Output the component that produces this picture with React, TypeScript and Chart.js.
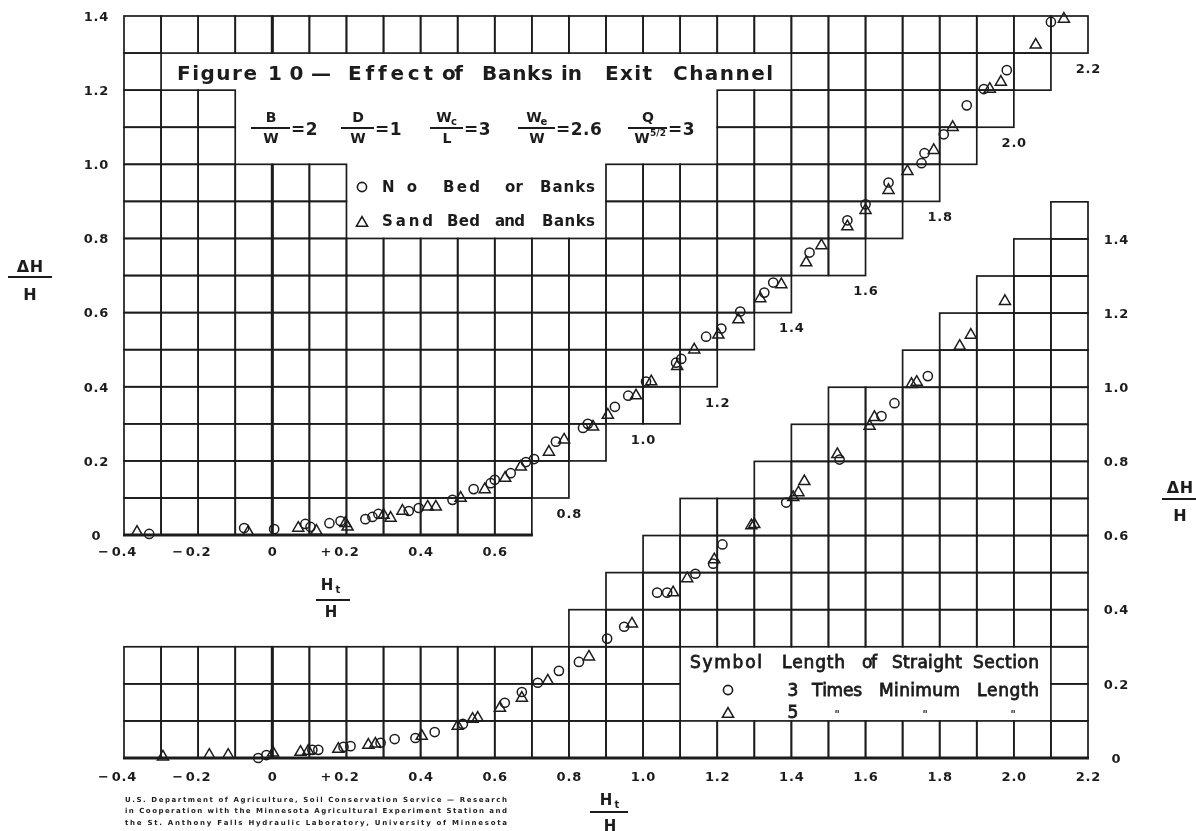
import React, { useEffect, useRef } from "react";
import { Chart, registerables } from "chart.js";

Chart.register(...registerables);

const FONT = '"DejaVu Sans", "Liberation Sans", Arial, sans-serif';
const INK = "#1c1c1c";
const W = 1196;
const H = 831;
const PAD = { left: 124, right: 108, top: 16, bottom: 73 };

// ---------------- upper graph (left axis) ----------------
const upperNoBedX = [-0.332, -0.076, 0.005, 0.089, 0.103, 0.154, 0.184, 0.251, 0.27, 0.286, 0.368, 0.395, 0.486, 0.543, 0.589, 0.6, 0.643, 0.684, 0.706, 0.765, 0.838, 0.851, 0.924, 0.96, 1.008, 1.089, 1.103, 1.17, 1.211, 1.262, 1.327, 1.351, 1.449, 1.551, 1.6, 1.662, 1.751, 1.759, 1.811, 1.873, 1.919, 1.981, 2.1];
const upperNoBedY = [0.003, 0.019, 0.016, 0.03, 0.022, 0.032, 0.038, 0.043, 0.049, 0.057, 0.065, 0.073, 0.095, 0.124, 0.14, 0.149, 0.167, 0.197, 0.205, 0.252, 0.289, 0.3, 0.346, 0.376, 0.414, 0.465, 0.475, 0.535, 0.557, 0.603, 0.654, 0.681, 0.762, 0.849, 0.892, 0.951, 1.003, 1.03, 1.081, 1.159, 1.203, 1.254, 1.384];

const upperSandX = [-0.365, -0.065, 0.07, 0.119, 0.197, 0.203, 0.3, 0.319, 0.351, 0.419, 0.441, 0.508, 0.573, 0.628, 0.67, 0.746, 0.787, 0.865, 0.905, 0.981, 1.022, 1.092, 1.138, 1.203, 1.257, 1.316, 1.373, 1.44, 1.481, 1.551, 1.6, 1.662, 1.713, 1.784, 1.835, 1.935, 1.965, 2.059, 2.135];
const upperSandY = [0.008, 0.008, 0.019, 0.011, 0.032, 0.022, 0.054, 0.046, 0.065, 0.076, 0.076, 0.1, 0.123, 0.154, 0.184, 0.224, 0.257, 0.292, 0.324, 0.376, 0.414, 0.455, 0.5, 0.54, 0.581, 0.638, 0.676, 0.735, 0.781, 0.832, 0.876, 0.93, 0.981, 1.038, 1.1, 1.203, 1.222, 1.322, 1.392];

// ---------------- lower graph (right axis) ----------------
const lowerThreeX = [-0.038, -0.016, 0.108, 0.124, 0.192, 0.211, 0.292, 0.33, 0.386, 0.438, 0.514, 0.627, 0.673, 0.716, 0.773, 0.827, 0.903, 0.949, 1.038, 1.065, 1.141, 1.189, 1.214, 1.386, 1.53, 1.643, 1.678, 1.768];
const lowerThreeY = [0.0, 0.008, 0.022, 0.022, 0.03, 0.032, 0.041, 0.051, 0.054, 0.07, 0.092, 0.149, 0.178, 0.203, 0.235, 0.259, 0.322, 0.354, 0.446, 0.446, 0.497, 0.524, 0.576, 0.689, 0.805, 0.922, 0.957, 1.03];

const lowerFiveX = [-0.295, -0.17, -0.119, 0.002, 0.076, 0.097, 0.178, 0.259, 0.278, 0.403, 0.5, 0.54, 0.554, 0.614, 0.673, 0.743, 0.854, 0.97, 1.081, 1.119, 1.192, 1.292, 1.3, 1.405, 1.419, 1.435, 1.524, 1.611, 1.624, 1.724, 1.738, 1.854, 1.884, 1.976];
const lowerFiveY = [0.003, 0.008, 0.008, 0.014, 0.016, 0.019, 0.024, 0.035, 0.038, 0.059, 0.086, 0.105, 0.108, 0.135, 0.162, 0.208, 0.273, 0.362, 0.446, 0.484, 0.535, 0.627, 0.63, 0.703, 0.716, 0.746, 0.819, 0.895, 0.919, 1.008, 1.014, 1.111, 1.141, 1.232];

// ---------------- staircase grids (row bottom -> x segments) ----------------
const upperRowBottoms = [0.0, 0.1, 0.2, 0.3, 0.4, 0.5, 0.6, 0.7, 0.8, 0.9, 1.0, 1.1, 1.2, 1.3];
const upperRowSegments = [
  [[-0.4, 0.7]], [[-0.4, 0.8]], [[-0.4, 0.9]], [[-0.4, 1.1]], [[-0.4, 1.2]],
  [[-0.4, 1.3]], [[-0.4, 1.4]], [[-0.4, 1.6]],
  [[-0.4, 0.2], [0.9, 1.7]], [[-0.4, 0.2], [0.9, 1.8]],
  [[-0.4, -0.1], [1.2, 1.9]], [[-0.4, -0.1], [1.2, 2.0]],
  [[-0.4, -0.3], [1.4, 2.1]], [[-0.4, 2.2]],
];
const lowerRowBottoms = [0.0, 0.1, 0.2, 0.3, 0.4, 0.5, 0.6, 0.7, 0.8, 0.9, 1.0, 1.1, 1.2, 1.3, 1.4];
const lowerRowSegments = [
  [[-0.4, 2.2]], [[-0.4, 1.1], [2.1, 2.2]], [[-0.4, 1.1], [2.1, 2.2]],
  [[0.8, 2.2]], [[0.9, 2.2]], [[1.0, 2.2]], [[1.1, 2.2]], [[1.3, 2.2]],
  [[1.4, 2.2]], [[1.5, 2.2]], [[1.7, 2.2]], [[1.8, 2.2]], [[1.9, 2.2]],
  [[2.0, 2.2]], [[2.1, 2.2]],
];

// ---------------- ticks ----------------
const upperYTicks = [0, 0.2, 0.4, 0.6, 0.8, 1.0, 1.2, 1.4];
const upperYLabels = ["0", "0.2", "0.4", "0.6", "0.8", "1.0", "1.2", "1.4"];
const upperXTicks = [-0.4, -0.2, 0, 0.2, 0.4, 0.6];
const upperXLabels = ["\u22120.4", "\u22120.2", "0", "+0.2", "0.4", "0.6"];
const upperStairTicks = [0.8, 1.0, 1.2, 1.4, 1.6, 1.8, 2.0, 2.2];
const upperStairLabels = ["0.8", "1.0", "1.2", "1.4", "1.6", "1.8", "2.0", "2.2"];
const upperStairEnds = [0.1, 0.3, 0.4, 0.6, 0.7, 0.9, 1.1, 1.3];
const lowerXTicks = [-0.4, -0.2, 0, 0.2, 0.4, 0.6, 0.8, 1.0, 1.2, 1.4, 1.6, 1.8, 2.0, 2.2];
const lowerXLabels = ["\u22120.4", "\u22120.2", "0", "+0.2", "0.4", "0.6", "0.8", "1.0", "1.2", "1.4", "1.6", "1.8", "2.0", "2.2"];
const lowerYTicks = [0, 0.2, 0.4, 0.6, 0.8, 1.0, 1.2, 1.4];
const lowerYLabels = ["0", "0.2", "0.4", "0.6", "0.8", "1.0", "1.2", "1.4"];

// ---------------- lettering (word, left px, right px) ----------------
const titleWords: [string, number, number][] = [
  ["Figure", 177, 257], ["10\u2014", 268, 331], ["Effect", 348, 433], ["of", 442, 463],
  ["Banks", 482, 553], ["in", 561, 582], ["Exit", 605, 652], ["Channel", 673, 773],
];
const legendNoBedWords: [string, number, number][] = [["No", 382, 417], ["Bed", 443, 480], ["or", 505, 523], ["Banks", 540, 595]];
const legendSandWords: [string, number, number][] = [["Sand", 382, 433], ["Bed", 447, 480], ["and", 495, 525], ["Banks", 542, 595]];
const lowerHeadWords: [string, number, number][] = [["Symbol", 690, 762], ["Length", 782, 845], ["of", 862, 877], ["Straight", 892, 962], ["Section", 973, 1039]];
const lowerThreeWords: [string, number, number][] = [["Times", 812, 862], ["Minimum", 879, 960], ["Length", 977, 1039]];

const footerLines = [
  "U.S. Department of Agriculture, Soil Conservation Service \u2014 Research",
  "in Cooperation with the Minnesota Agricultural Experiment Station and",
  "the St. Anthony Falls Hydraulic Laboratory, University of Minnesota",
];

const zip = (xs: number[], ys: number[]) => xs.map((x, i) => ({ x, y: ys[i] }));

type TxtOpts = { bold?: boolean; heavy?: number; align?: "left" | "center" | "right"; width?: number; spacing?: number };

function txt(ctx: CanvasRenderingContext2D, s: string, x: number, yc: number, size: number, o: TxtOpts = {}) {
  ctx.font = `${o.bold ? "bold " : ""}${size}px ${FONT}`;
  ctx.textAlign = "left";
  ctx.textBaseline = "alphabetic";
  const chars = Array.from(s);
  const ws = chars.map((c) => ctx.measureText(c).width);
  const nat = ws.reduce((a, b) => a + b, 0);
  let gap = o.spacing ?? 0;
  if (o.width != null && chars.length > 1) gap = (o.width - nat) / (chars.length - 1);
  const total = nat + gap * (chars.length - 1);
  const align = o.align ?? "left";
  let cx = align === "left" ? x : align === "center" ? x - total / 2 : x - total;
  const base = yc + size * 0.365;
  chars.forEach((c, i) => {
    ctx.fillText(c, cx, base);
    if (o.heavy) {
      ctx.lineWidth = o.heavy;
      ctx.strokeText(c, cx, base);
    }
    cx += ws[i] + gap;
  });
  return total;
}

function words(ctx: CanvasRenderingContext2D, list: [string, number, number][], yc: number, size: number, bold: boolean, heavy = 0) {
  list.forEach(([w, x0, x1]) => txt(ctx, w, x0, yc, size, { bold, heavy, width: x1 - x0 }));
}

function numLabel(ctx: CanvasRenderingContext2D, s: string, x: number, yc: number, size: number) {
  ctx.font = `bold ${size}px ${FONT}`;
  const sp = 0.8;
  const hasSign = s[0] === "\u2212" || s[0] === "+";
  const body = hasSign ? s.slice(1) : s;
  const bw = Array.from(body).reduce((a, c) => a + ctx.measureText(c).width, 0) + sp * (body.length - 1);
  const left = x - bw / 2;
  if (hasSign) {
    const sw = ctx.measureText(s[0]).width + sp + 2;
    txt(ctx, s[0], left - sw, yc, size, { bold: true });
  }
  txt(ctx, body, left, yc, size, { bold: true, spacing: sp });
}

function drawGrid(ctx: CanvasRenderingContext2D, X: (v: number) => number, Y: (v: number) => number, bottoms: number[], segs: number[][][]) {
  ctx.strokeStyle = INK;
  ctx.lineWidth = 1.7;
  for (let r = 0; r < bottoms.length; r++) {
    const y0 = bottoms[r];
    const y1 = y0 + 0.1;
    for (const [a, b] of segs[r]) {
      const ia = Math.round(a * 10);
      const ib = Math.round(b * 10);
      for (let i = ia; i < ib; i++) {
        const xa = X(i / 10);
        const xb = X((i + 1) / 10);
        ctx.strokeRect(xa, Y(y1), xb - xa, Y(y0) - Y(y1));
      }
    }
  }
  ctx.lineWidth = 3;
  ctx.beginPath();
  for (let r = 0; r < bottoms.length; r++) {
    for (const [a, b] of segs[r]) {
      if (a <= 0 && b >= 0) {
        ctx.moveTo(X(0), Y(bottoms[r]));
        ctx.lineTo(X(0), Y(bottoms[r] + 0.1));
      }
      if (Math.abs(bottoms[r]) < 1e-9) {
        ctx.moveTo(X(a) - 1, Y(0));
        ctx.lineTo(X(b) + 1, Y(0));
      }
    }
  }
  ctx.stroke();
}

function circ(ctx: CanvasRenderingContext2D, x: number, y: number, r: number) {
  ctx.beginPath();
  ctx.arc(x, y, r, 0, Math.PI * 2);
  ctx.stroke();
}
function tri(ctx: CanvasRenderingContext2D, x: number, y: number, r: number) {
  ctx.beginPath();
  ctx.moveTo(x, y - r);
  ctx.lineTo(x + r * 0.866, y + r * 0.5);
  ctx.lineTo(x - r * 0.866, y + r * 0.5);
  ctx.closePath();
  ctx.stroke();
}
function hline(ctx: CanvasRenderingContext2D, x0: number, x1: number, y: number, w = 2) {
  ctx.lineWidth = w;
  ctx.beginPath();
  ctx.moveTo(x0, y);
  ctx.lineTo(x1, y);
  ctx.stroke();
}

const artPlugin = {
  id: "art",
  beforeDatasetsDraw(chart: any) {
    const ctx: CanvasRenderingContext2D = chart.ctx;
    const X = (v: number) => chart.scales.x.getPixelForValue(v);
    const YU = (v: number) => chart.scales.yUp.getPixelForValue(v);
    const YL = (v: number) => chart.scales.yLow.getPixelForValue(v);
    ctx.save();
    ctx.fillStyle = "#ffffff";
    ctx.fillRect(0, 0, W, H);
    drawGrid(ctx, X, YU, upperRowBottoms, upperRowSegments);
    drawGrid(ctx, X, YL, lowerRowBottoms, lowerRowSegments);
    ctx.restore();
  },
  afterDraw(chart: any) {
    const ctx: CanvasRenderingContext2D = chart.ctx;
    const X = (v: number) => chart.scales.x.getPixelForValue(v);
    const YU = (v: number) => chart.scales.yUp.getPixelForValue(v);
    const YL = (v: number) => chart.scales.yLow.getPixelForValue(v);
    ctx.save();
    ctx.fillStyle = INK;
    ctx.strokeStyle = INK;

    // tick labels
    upperYTicks.forEach((v, i) => txt(ctx, upperYLabels[i], X(-0.4) - 28, YU(v), 13, { bold: true, align: "center", spacing: 0.8 }));
    upperXTicks.forEach((v, i) => numLabel(ctx, upperXLabels[i], X(v), YU(0) + 16, 13));
    upperStairTicks.forEach((v, i) => numLabel(ctx, upperStairLabels[i], X(v), YU(upperStairEnds[i]) + 15, 13));
    lowerXTicks.forEach((v, i) => numLabel(ctx, lowerXLabels[i], X(v), YL(0) + 18, 13));
    lowerYTicks.forEach((v, i) => txt(ctx, lowerYLabels[i], X(2.2) + 28, YL(v), 13, { bold: true, align: "center", spacing: 0.8 }));

    // axis titles: ΔH / H (left & right)
    txt(ctx, "\u0394H", 30, 266, 16, { bold: true, align: "center", spacing: 0.5 });
    hline(ctx, 8, 52, 277, 2);
    txt(ctx, "H", 30, 294, 16, { bold: true, align: "center" });
    txt(ctx, "\u0394H", 1180, 487, 16, { bold: true, align: "center", spacing: 0.5 });
    hline(ctx, 1162, 1196, 499, 2);
    txt(ctx, "H", 1180, 515, 16, { bold: true, align: "center" });

    // Ht / H labels
    const htH = (cx: number, yNum: number, yLine: number, yDen: number, x0: number, x1: number) => {
      txt(ctx, "H", cx - 4, yNum, 15, { bold: true, align: "center" });
      txt(ctx, "t", cx + 7, yNum + 4, 10, { bold: true, align: "center" });
      hline(ctx, x0, x1, yLine, 2);
      txt(ctx, "H", cx, yDen, 15, { bold: true, align: "center" });
    };
    htH(331, 585, 600, 612, 316, 350);
    htH(610, 800, 812, 826, 590, 628);

    // Title
    words(ctx, titleWords, 73, 20, true);

    // Parameters
    const frac = (num: string, sub: string, den: string, sup: string, cx: number, x0: number, x1: number, eq: string) => {
      txt(ctx, num, cx - (sub ? 3 : 0), 117, 14, { bold: true, align: "center" });
      if (sub) txt(ctx, sub, cx + 7, 121, 10, { bold: true, align: "center" });
      hline(ctx, x0, x1, 128, 1.8);
      txt(ctx, den, cx - (sup ? 6 : 0), 138, 14, { bold: true, align: "center" });
      if (sup) txt(ctx, sup, cx + 10, 133, 9, { bold: true, align: "center" });
      txt(ctx, eq, x1 + 1, 129, 17, { bold: true, spacing: 0.5 });
    };
    frac("B", "", "W", "", 271, 251, 290, "=2");
    frac("D", "", "W", "", 358, 341, 374, "=1");
    frac("W", "c", "L", "", 447, 430, 463, "=3");
    frac("W", "e", "W", "", 537, 518, 555, "=2.6");
    frac("Q", "", "W", "5/2", 648, 628, 667, "=3");

    // Upper legend
    ctx.lineWidth = 1.6;
    circ(ctx, 362, 187, 4.6);
    tri(ctx, 362, 223, 6.4);
    words(ctx, legendNoBedWords, 187, 15, true);
    words(ctx, legendSandWords, 221, 15, true);

    // Lower legend
    words(ctx, lowerHeadWords, 662, 17, false, 0.8);
    ctx.lineWidth = 1.6;
    circ(ctx, 728, 690, 4.6);
    tri(ctx, 728, 714, 6.4);
    txt(ctx, "3", 793, 690, 17, { heavy: 0.8, align: "center" });
    words(ctx, lowerThreeWords, 690, 17, false, 0.8);
    txt(ctx, "5", 793, 712, 17, { heavy: 0.8, align: "center" });
    [837, 925, 1013].forEach((x) => txt(ctx, "\"", x, 714, 10, { bold: true, align: "center" }));

    // Footer credit
    footerLines.forEach((s, i) => txt(ctx, s, 125, 799 + i * 11.5, 7, { bold: true, width: 382 }));

    ctx.restore();
  },
};

export default function App() {
  const ref = useRef<HTMLCanvasElement | null>(null);
  useEffect(() => {
    if (!ref.current) return;
    const areaW = W - PAD.left - PAD.right;
    const areaH = H - PAD.top - PAD.bottom;
    const ppu = areaW / 2.6;
    const span = areaH / ppu;
    const common = {
      showLine: false,
      borderColor: INK,
      backgroundColor: "rgba(0,0,0,0)",
      borderWidth: 1.5,
      clip: false as any,
    };
    const chart = new Chart(ref.current, {
      type: "scatter",
      data: {
        datasets: [
          { ...common, label: "No Bed or Banks", data: zip(upperNoBedX, upperNoBedY), pointStyle: "circle", pointRadius: 4.6, yAxisID: "yUp" },
          { ...common, label: "Sand Bed and Banks", data: zip(upperSandX, upperSandY), pointStyle: "triangle", pointRadius: 6.4, yAxisID: "yUp" },
          { ...common, label: "3 Times Minimum Length", data: zip(lowerThreeX, lowerThreeY), pointStyle: "circle", pointRadius: 4.6, yAxisID: "yLow" },
          { ...common, label: "5 Times Minimum Length", data: zip(lowerFiveX, lowerFiveY), pointStyle: "triangle", pointRadius: 6.4, yAxisID: "yLow" },
        ],
      },
      options: {
        responsive: false,
        animation: false,
        events: [],
        layout: { padding: PAD },
        plugins: { legend: { display: false }, tooltip: { enabled: false } },
        scales: {
          x: { type: "linear", min: -0.4, max: 2.2, display: false },
          yUp: { type: "linear", min: 1.4 - span, max: 1.4, display: false },
          yLow: { type: "linear", min: 0, max: span, display: false },
        },
      },
      plugins: [artPlugin],
    });
    return () => chart.destroy();
  }, []);
  return (
    <div style={{ position: "fixed", left: 0, top: 0, width: W, height: H, background: "#fff" }}>
      <canvas ref={ref} width={W} height={H} style={{ display: "block" }} />
    </div>
  );
}
